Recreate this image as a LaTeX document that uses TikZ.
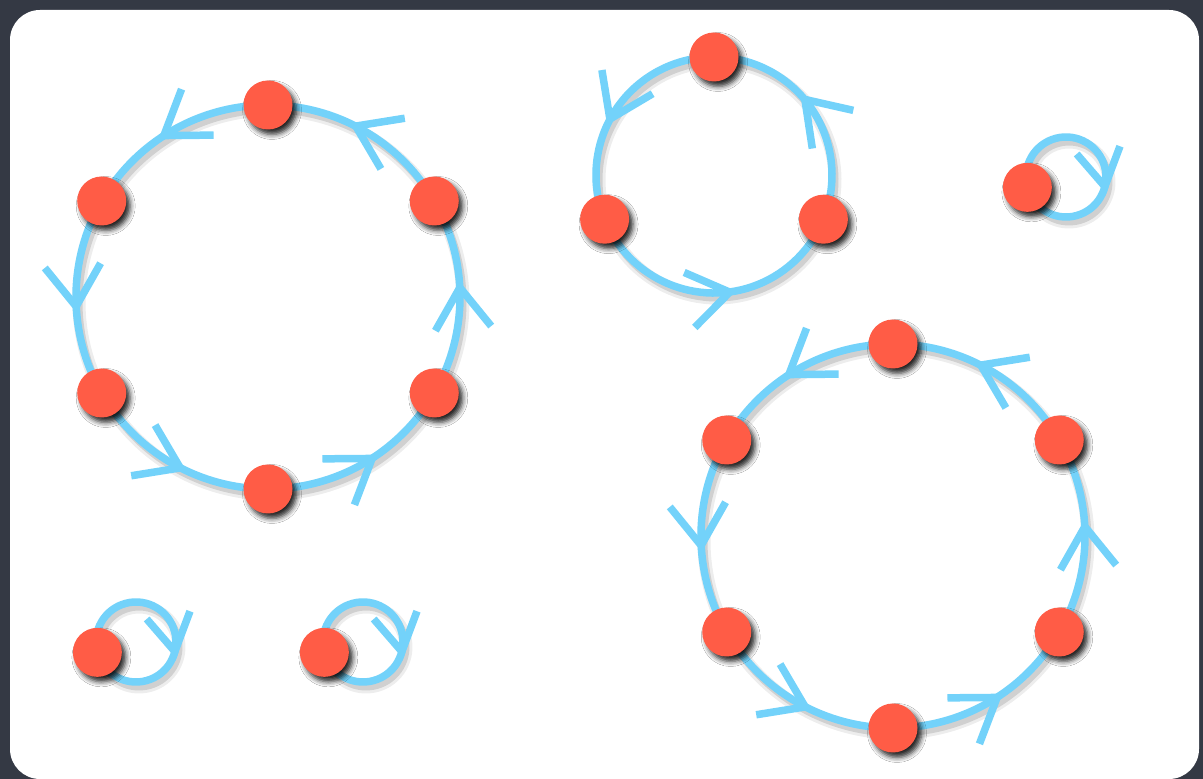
\documentclass[tikz,border=0pt]{standalone}
\usepackage{tikz}
\usetikzlibrary{arrows.meta,calc,backgrounds,decorations.markings,shadows.blur}
\definecolor{cycred}  {RGB}{255,92,70}
\definecolor{cycblue} {RGB}{115,210,250}
\definecolor{cycslate}{RGB}{52,57,68}
\tikzset{
  dot/.style={circle,fill=cycred,minimum size=49pt,inner sep=0pt,
              blur shadow={shadow xshift=4pt,shadow yshift=-5pt,
                           shadow blur radius=5pt,shadow opacity=85}},
  flowline/.style={draw=cycblue,line width=7.5pt,
              preaction={draw=black,opacity=0.07,line width=13pt,
                         transform canvas={shift={(3pt,-5pt)}}},
              preaction={draw=black,opacity=0.12,line width=7pt,
                         transform canvas={shift={(3pt,-5pt)}}},
              postaction={decorate}},
  flow/.style={flowline,decoration={markings,mark=at position 0.58 with
              {\arrow{Straight Barb[length=41pt,width=56pt]}}}},
  selfloop/.style={flowline,decoration={markings,mark=at position 0.58 with
              {\draw[cycblue,line width=7.5pt,rotate=24]
                 (-37pt,22pt) -- (0,0) -- (-37pt,-22pt);}}},
}

\begin{document}
\begin{tikzpicture}[x=1pt,y=1pt]
  \useasboundingbox (0,0) rectangle (1203,779);
  % centres of the cycles
  \coordinate (hexL) at (268,482);
  \coordinate (hexR) at (893,243);
  \coordinate (tri)  at (714,604);

  % the six-cycles
  \foreach \cyc in {hexL,hexR}{
    \foreach \i/\a in {1/90,2/150,3/210,4/270,5/330,6/30}
      \node[dot] (\cyc-\i) at ($(\cyc)+(\a:192)$) {};
  }
  % the three-cycle
  \foreach \i/\a in {1/90,2/202,3/338}
    \node[dot] (tri-\i) at ($(tri)+(\a:118)$) {};
  % the fixed points
  \foreach \l/\x/\y in {loopA/136/137,loopB/363/137,loopC/1066/602}{
    \coordinate (\l) at (\x,\y);
    \node[dot] (\l-1) at ($(\l)+(195:40)$) {};
  }

  \begin{scope}[on background layer]
    \fill[cycslate] (0,0) rectangle (1203,779);
    \fill[white,rounded corners=30pt] (10,0) rectangle (1199,769);
    \foreach \cyc in {hexL,hexR}{
      \foreach \i/\a in {1/90,2/150,3/210,4/270,5/330,6/30}
        \draw[flow] (\cyc-\i) arc[start angle=\a,delta angle=60,radius=192pt];
    }
    \foreach \i/\a/\d in {1/90/112,2/202/136,3/338/112}
      \draw[flow] (tri-\i) arc[start angle=\a,delta angle=\d,radius=118pt];
    \foreach \l in {loopA,loopB,loopC}
      \draw[selfloop] (\l-1) arc[start angle=195,delta angle=-360,radius=40pt];
  \end{scope}
\end{tikzpicture}
\end{document}
